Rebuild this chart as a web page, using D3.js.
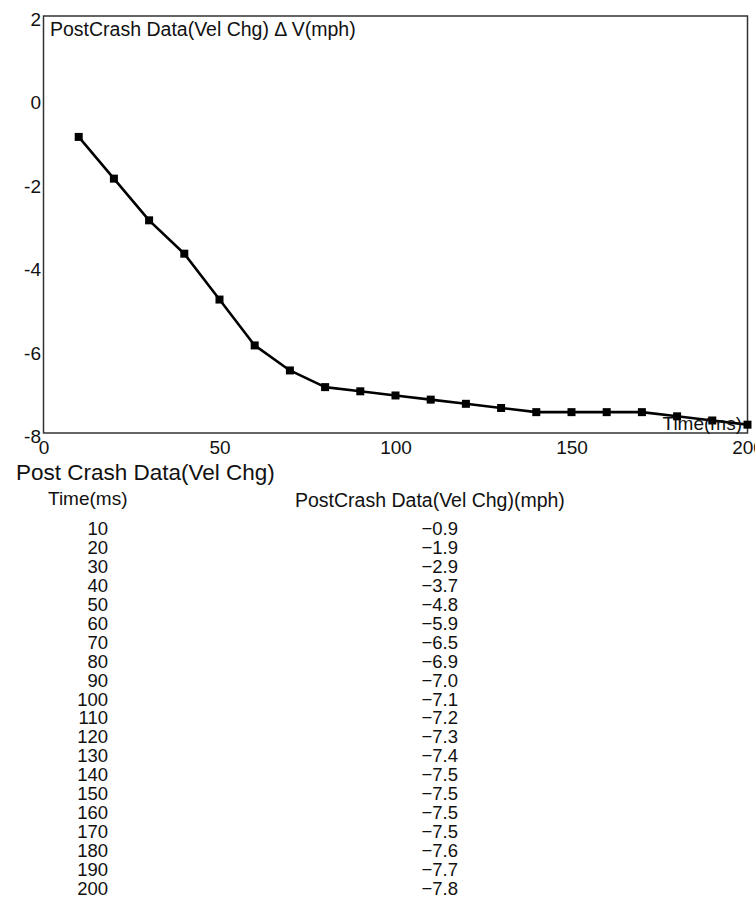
<!DOCTYPE html>
<html>
<head>
<meta charset="utf-8">
<script src="https://cdn.jsdelivr.net/npm/d3@7"></script>
<style>
  html, body { margin: 0; padding: 0; background: #fff; }
  svg { display: block; }
  text { font-family: "Liberation Sans", Arial, sans-serif; fill: #111; }
</style>
</head>
<body>
<svg id="chart" width="755" height="898"></svg>
<script>
const width = 755;
const height = 898;

// Post crash data (velocity change)
const times = [10, 20, 30, 40, 50, 60, 70, 80, 90, 100, 110, 120, 130, 140, 150, 160, 170, 180, 190, 200];
const deltaV = [-0.9, -1.9, -2.9, -3.7, -4.8, -5.9, -6.5, -6.9, -7.0, -7.1, -7.2, -7.3, -7.4, -7.5, -7.5, -7.5, -7.5, -7.6, -7.7, -7.8];
const xTicks = [0, 50, 100, 150, 200];
const yTicks = [2, 0, -2, -4, -6, -8];

const chartTitle = "PostCrash Data(Vel Chg) \u0394 V(mph)";
const xLabel = "Time(ms)";
const tableTitle = "Post Crash Data(Vel Chg)";
const tableHeaders = ["Time(ms)", "PostCrash Data(Vel Chg)(mph)"];

const plot = { left: 43.5, right: 747.5, top: 16, bottom: 433 };

const svg = d3.select("#chart");

const x = d3.scaleLinear().domain([0, 200]).range([plot.left, plot.right]);
const y = d3.scaleLinear().domain([-8, 2]).range([plot.bottom, plot.top]);

// Frame
svg.append("rect")
    .attr("x", plot.left)
    .attr("y", plot.top)
    .attr("width", plot.right - plot.left)
    .attr("height", plot.bottom - plot.top)
    .attr("fill", "none")
    .attr("stroke", "#333")
    .attr("stroke-width", 1.5);

// Axes (labels only, no tick marks)
const yAxis = svg.append("g")
    .attr("transform", `translate(${plot.left},0)`)
    .call(d3.axisLeft(y).tickValues(yTicks).tickSize(0).tickPadding(2.5).tickFormat(d => String(d)));
yAxis.select(".domain").remove();
yAxis.selectAll("text")
    .attr("y", 3.5)
    .style("font-size", "19px")
    .style("font-family", '"Liberation Sans", Arial, sans-serif')
    .attr("fill", "#111");

const xAxis = svg.append("g")
    .attr("transform", `translate(0,${plot.bottom})`)
    .call(d3.axisBottom(x).tickValues(xTicks).tickSize(0).tickPadding(7.5).tickFormat(d => String(d)));
xAxis.select(".domain").remove();
xAxis.selectAll("text")
    .style("font-size", "19px")
    .style("font-family", '"Liberation Sans", Arial, sans-serif')
    .attr("fill", "#111");

// Title inside plot
svg.append("text")
    .attr("x", 50)
    .attr("y", 36)
    .style("font-size", "19.5px")
    .text(chartTitle);

// Data line
const points = times.map((t, i) => [t, deltaV[i]]);
const line = d3.line().x(d => x(d[0])).y(d => y(d[1]));

svg.append("path")
    .datum(points)
    .attr("d", line)
    .attr("fill", "none")
    .attr("stroke", "#000")
    .attr("stroke-width", 2.6)
    .attr("stroke-linejoin", "round");

const markerSize = 8;
svg.append("g")
    .selectAll("rect")
    .data(points)
    .join("rect")
    .attr("x", d => x(d[0]) - markerSize / 2)
    .attr("y", d => y(d[1]) - markerSize / 2)
    .attr("width", markerSize)
    .attr("height", markerSize)
    .attr("fill", "#000");

// x label inside plot, bottom right
svg.append("text")
    .attr("x", 742)
    .attr("y", 430)
    .attr("text-anchor", "end")
    .style("font-size", "19px")
    .text(xLabel);

// Table below the chart
svg.append("text")
    .attr("x", 16)
    .attr("y", 480)
    .style("font-size", "22.5px")
    .text(tableTitle);

svg.append("text")
    .attr("x", 48)
    .attr("y", 505)
    .style("font-size", "19px")
    .text(tableHeaders[0]);

svg.append("text")
    .attr("x", 295)
    .attr("y", 507)
    .style("font-size", "19.5px")
    .text(tableHeaders[1]);

const rowY = d3.scaleLinear().domain([0, times.length - 1]).range([535, 895]);
const fmt = v => d3.format(".1f")(v).replace("-", "\u2212");

const rows = svg.append("g")
    .selectAll("g")
    .data(points)
    .join("g")
    .attr("transform", (d, i) => `translate(0,${rowY(i)})`);

rows.append("text")
    .attr("x", 108)
    .attr("text-anchor", "end")
    .style("font-size", "18.5px")
    .text(d => d[0]);

rows.append("text")
    .attr("x", 458)
    .attr("text-anchor", "end")
    .style("font-size", "18.5px")
    .text(d => fmt(d[1]));
</script>
</body>
</html>
